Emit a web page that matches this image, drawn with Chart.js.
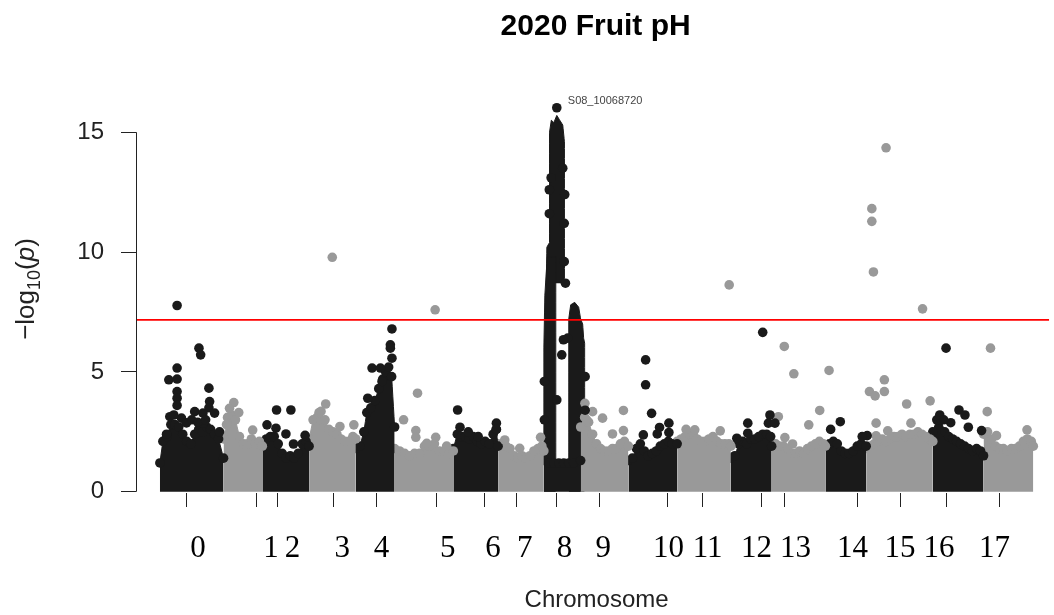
<!DOCTYPE html>
<html>
<head>
<meta charset="utf-8">
<script src="https://cdn.jsdelivr.net/npm/chart.js@4.4.1/dist/chart.umd.min.js"></script>
<style>
html, body { margin: 0; padding: 0; background: #fff; }
canvas { display: block; }
</style>
</head>
<body>
<canvas id="manhattan" width="1054" height="615"></canvas>
<script>
(function() {
// x = cumulative genome position (arbitrary units), y = -log10(p)
const chromosomes = ['0','1','2','3','4','5','6','7','8','9','10','11','12','13','14','15','16','17'];
const tickPos  = [50.7, 120.7, 142.7, 198.3, 241.7, 301.7, 350.7, 383, 423, 466.3, 534, 569, 628.3, 651.7, 725, 768.3, 814.3, 868.3];
const labelPos = [62.3, 135.7, 157.3, 207.3, 246.7, 313.3, 359, 390.7, 430.7, 469.7, 535.3, 574.7, 623.7, 663, 720.3, 768, 807.3, 863];
const yTicks = [0, 5, 10, 15];
const genomeLength = 918;
const threshold = 7.17;
const peakName = 'S08_10068720';
const peakSnp = [423, 16.02];

// top of the dense cloud of SNPs, per chromosome
const mass0  = [[24,1.2],[27,2.1],[31,2.3],[35,2.8],[39,2.8],[43,2.7],[47,2.4],[51,2.1],[55,2.0],[59,2.4],[63,2.6],[67,2.5],[71,2.7],[75,2.6],[79,2.4],[83,2.2],[88,1.4]];
const mass1  = [[88,2.2],[92,3.1],[96,3.2],[100,3.0],[104,2.3],[108,2.0],[112,2.0],[116,2.2],[120,2.0],[124,2.1],[127,1.9]];
const mass2  = [[127,1.9],[131,2.2],[135,2.3],[139,2.3],[143,2.0],[147,1.6],[151,1.4],[155,1.5],[159,1.4],[163,1.6],[167,2.0],[171,2.1],[174,1.9]];
const mass3  = [[174,2.2],[178,3.0],[182,3.1],[186,3.0],[190,3.0],[194,2.6],[198,2.5],[202,2.4],[206,2.2],[210,2.1],[214,2.1],[218,2.3],[221,2.2]];
const mass4  = [[221,1.8],[225,1.9],[229,2.5],[232,3.3],[236,3.5],[240,3.8],[244,4.3],[248,4.7],[251,5.0],[254,5.2],[257,4.8],[260,2.7]];
const mass5  = [[260,1.8],[265,1.7],[270,1.6],[275,1.5],[280,1.6],[285,1.6],[290,1.9],[295,1.9],[300,2.0],[305,1.7],[310,1.7],[315,1.6],[319,1.7]];
const mass6  = [[319,1.8],[323,2.4],[327,2.3],[331,2.3],[335,2.2],[339,2.3],[343,2.1],[347,2.0],[351,2.1],[355,2.0],[359,2.4],[362,2.6],[364,1.9]];
const mass7  = [[364,2.0],[368,1.9],[372,1.9],[376,1.8],[380,1.5],[384,1.4],[388,1.5],[392,1.4],[396,1.5],[400,1.7],[404,1.8],[408,1.9],[410,1.7]];
const mass8  = [[410,1.3],[415,1.2],[420,1.2],[425,1.2],[430,1.2],[435,1.2],[440,1.2],[447,1.3]];
const mass9  = [[447,2.7],[451,3.1],[455,2.9],[459,2.4],[463,2.0],[467,1.8],[471,1.7],[475,1.7],[479,1.8],[483,1.8],[487,2.0],[491,2.1],[495,1.9]];
const mass10 = [[495,1.3],[499,1.4],[503,1.8],[507,2.0],[511,1.7],[515,1.5],[519,1.6],[523,1.7],[527,1.9],[531,2.0],[535,2.1],[539,2.0],[544,2.0]];
const mass11 = [[544,2.1],[548,2.2],[552,2.3],[556,2.4],[560,2.4],[564,2.2],[568,2.1],[572,2.1],[576,2.2],[580,2.3],[584,2.1],[588,2.0],[592,2.0],[596,2.0],[598,1.9]];
const mass12 = [[598,1.4],[602,1.5],[606,2.0],[610,2.1],[614,2.0],[618,2.2],[622,2.2],[626,2.3],[630,2.4],[634,2.4],[638,2.3],[639,1.9]];
const mass13 = [[639,1.9],[643,2.0],[647,1.9],[651,1.9],[655,1.8],[659,1.6],[663,1.6],[667,1.7],[671,1.6],[675,1.8],[679,1.9],[683,2.0],[687,2.1],[691,2.0],[693,1.9]];
const mass14 = [[693,1.9],[697,2.0],[701,2.1],[705,2.0],[709,1.7],[713,1.6],[717,1.6],[721,1.7],[725,1.9],[729,2.0],[734,1.9]];
const mass15 = [[734,1.8],[738,1.9],[742,2.0],[746,2.1],[750,2.2],[754,2.1],[758,2.2],[762,2.3],[766,2.3],[770,2.4],[774,2.3],[778,2.4],[782,2.4],[786,2.5],[790,2.4],[794,2.3],[798,2.2],[801,2.1]];
const mass16 = [[801,2.5],[805,3.0],[809,3.0],[813,2.5],[817,2.3],[821,2.2],[825,2.1],[829,2.0],[833,1.9],[837,1.8],[841,1.7],[845,1.8],[849,1.7],[852,1.5]];
const mass17 = [[852,2.4],[856,2.5],[860,2.2],[864,1.9],[868,1.8],[872,1.8],[876,1.7],[880,1.8],[884,1.8],[888,1.9],[892,2.1],[896,2.2],[900,2.1],[902,1.9]];

// chromosome 8 peak: two columns of significant SNPs
const peak8Left  = [[410,1.2],[410,6.0],[411,8.2],[412.5,9.2],[413.5,9.8],[422,9.8],[422,1.2]];
const peak8Top   = [[412.5,8.7],[413,10.2],[415.7,10.4],[415.7,15.0],[417.5,15.5],[420,15.4],[423,15.7],[426,15.5],[429,15.3],[430.7,14.6],[430.7,8.7]];
const peak8Split = 8.7;
const peak8Right = [[435,1.2],[435,7.2],[437,7.8],[441,7.9],[445,7.7],[447,7.2],[449,7.0],[450,6.4],[451,6.2],[451,1.2]];

// individual SNPs standing out above the cloud
const dots0  = [[41.3,7.77],[63.3,5.99],[65,5.71],[41.3,5.16],[33,4.67],[41.3,4.7],[41.3,4.18],[41.3,3.9],[41.3,3.6],[73.3,4.32],[74,3.76],[73.3,3.5],[34,3.13],[45.7,3.07],[59,3.34],[67.3,3.28],[79,3.28],[30.7,2.4],[50.7,2.87],[67.3,2.86],[84,2.5],[38,3.2],[56,3.0],[62,2.9],[70,3.0]];
const dots1  = [[98.3,3.72],[103.3,3.3],[94,3.48],[117.3,2.57],[91,2.8]];
const dots2  = [[131.7,2.79],[141.3,3.41],[155.7,3.41],[140.7,2.65],[150.7,2.41],[158.3,1.99],[170,2.35]];
const dots3  = [[197.3,9.78],[190.7,3.66],[205,2.72],[219,2.79],[184,3.3],[186,3.35]];
const dots4  = [[257.3,6.79],[255.7,6.13],[255.7,5.99],[257.3,5.57],[237.3,5.16],[245.7,5.16],[247.3,4.6],[233,3.9]];
const dots5  = [[300.7,7.59],[283,4.11],[269,3.0],[281.3,2.55],[281.3,2.27],[292.3,2.02],[301.3,2.27],[312.3,1.9]];
const dots6  = [[323.3,3.41],[325.7,2.69],[362.3,2.86],[362.3,2.6],[344,2.3],[334,2.5]];
const dots7  = [[370.7,2.16],[385.7,1.81],[406.7,2.27]];
const dots8  = [peakSnp,[431.7,8.7],[434,6.41],[428,5.71],[429.7,6.34],[423,3.83],[417.3,13.1],[429,13.5],[415.5,11.6],[415.5,12.6],[430.5,11.2],[431,12.4],[430.5,9.6],[410.5,3.0],[410.5,4.6],[451.5,4.8],[451.5,3.4]];
const dots9  = [[451.3,3.69],[459,3.34],[469,3.07],[490,3.39],[479,2.41],[490,2.55],[453,3.0]];
const dots10 = [[512.3,5.5],[512.3,4.46],[518.3,3.27],[535.7,2.86],[526.3,2.68],[535.7,2.47],[510,2.37],[524,2.41]];
const dots11 = [[596.3,8.63],[561.7,2.58],[587.3,2.54],[553,2.6]];
const dots12 = [[630,6.65],[604,2.23],[615,2.86],[615,2.44],[637.3,3.2],[635.7,2.86],[642.3,2.86]];
const dots13 = [[651.7,6.06],[661.3,4.92],[696.7,5.06],[645.7,3.13],[687.3,3.39],[676.3,2.79],[652.3,2.26],[660,1.99]];
const dots14 = [[698.3,2.6],[708,2.92],[735,2.34],[730,2.3]];
const dots15 = [[754,14.35],[739.7,11.81],[739.7,11.28],[741.3,9.17],[790.7,7.63],[752.3,4.67],[737.3,4.18],[743,4.0],[752.3,4.18],[774.7,3.66],[798.3,3.79],[744,2.86],[779,2.86],[744,2.33],[755.7,2.54]];
const dots16 = [[814.3,5.99],[827.3,3.41],[833.3,3.2],[808,3.2],[819,2.88],[836.7,2.69],[850,2.55],[812,3.0]];
const dots17 = [[859,5.99],[855.7,3.34],[865,2.34],[895.7,2.58]];

const masses = [mass0,mass1,mass2,mass3,mass4,mass5,mass6,mass7,mass8,mass9,mass10,mass11,mass12,mass13,mass14,mass15,mass16,mass17];
const dots = [dots0,dots1,dots2,dots3,dots4,dots5,dots6,dots7,dots8,dots9,dots10,dots11,dots12,dots13,dots14,dots15,dots16,dots17];

const DARK = '#1a1a1a';
const GREY = '#999999';
const SANS = "'Liberation Sans', Arial, sans-serif";
const SERIF = "'Liberation Serif', 'Times New Roman', serif";
const R = 4.8;

const xy = arr => arr.map(p => ({x: p[0], y: p[1]}));
const colourOf = i => (i % 2 === 0 ? DARK : GREY);

function massSet(arr, colour, fill, radius) {
    return {
        data: xy(arr), showLine: true, fill: fill,
        backgroundColor: colour, borderColor: colour, borderWidth: 1,
        borderDash: [10, 0], // solid, but keeps the exact (non-decimated) path
        pointRadius: radius, pointBackgroundColor: colour, pointBorderWidth: 0,
        tension: 0, order: 2
    };
}

const datasets = [];
masses.forEach((m, i) => datasets.push(massSet(m, colourOf(i), 'origin', R)));
datasets.push(massSet(peak8Left, DARK, 'origin', 0));
datasets.push(massSet(peak8Top, DARK, {value: peak8Split}, 0));
datasets.push(massSet(peak8Right, DARK, 'origin', 0));
dots.forEach((d, i) => datasets.push({
    data: xy(d), showLine: false,
    pointRadius: R, pointBackgroundColor: colourOf(i), pointBorderWidth: 0,
    order: 1
}));
datasets.push({
    data: [{x: 0, y: threshold}, {x: genomeLength, y: threshold}],
    borderColor: '#ff0000', borderWidth: 1.6, pointRadius: 0, fill: false, order: 0
});

const rLabels = {
    id: 'rLabels',
    afterDraw(chart) {
        const {ctx, chartArea, scales: {x, y}} = chart;
        const mid = (chartArea.left + chartArea.right) / 2;
        ctx.save();

        // y axis line only spans the tick range
        ctx.strokeStyle = '#222';
        ctx.lineWidth = 1;
        ctx.beginPath();
        ctx.moveTo(chartArea.left + 0.5, y.getPixelForValue(yTicks[0]));
        ctx.lineTo(chartArea.left + 0.5, y.getPixelForValue(yTicks[yTicks.length - 1]));
        ctx.stroke();

        // title
        ctx.fillStyle = '#000';
        ctx.textAlign = 'center';
        ctx.textBaseline = 'alphabetic';
        ctx.font = 'bold 30px ' + SANS;
        ctx.fillText('2020 Fruit pH', mid + 3, 35);

        // chromosome labels
        ctx.font = '31px ' + SERIF;
        chromosomes.forEach((c, i) => ctx.fillText(c, x.getPixelForValue(labelPos[i]), 557));

        // x title
        ctx.fillStyle = '#222';
        ctx.font = '24px ' + SANS;
        ctx.fillText('Chromosome', mid + 4, 607);

        // y title: -log10(p)
        const parts = [
            {t: '\u2212log', f: '26px ' + SANS, dy: 0},
            {t: '10', f: '18px ' + SANS, dy: 6},
            {t: '(', f: '26px ' + SANS, dy: 0},
            {t: 'p', f: 'italic 26px ' + SANS, dy: 0},
            {t: ')', f: '26px ' + SANS, dy: 0}
        ];
        let total = 0;
        parts.forEach(p => { ctx.font = p.f; p.w = ctx.measureText(p.t).width; total += p.w; });
        ctx.translate(34, (chartArea.top + chartArea.bottom) / 2);
        ctx.rotate(-Math.PI / 2);
        ctx.textAlign = 'left';
        let cx = -total / 2;
        parts.forEach(p => { ctx.font = p.f; ctx.fillText(p.t, cx, p.dy); cx += p.w; });
        ctx.setTransform(1, 0, 0, 1, 0, 0);

        // peak SNP name
        ctx.fillStyle = '#444';
        ctx.font = '11px ' + SANS;
        ctx.textAlign = 'left';
        ctx.textBaseline = 'middle';
        ctx.fillText(peakName, x.getPixelForValue(peakSnp[0]) + 11, y.getPixelForValue(peakSnp[1]) - 7);
        ctx.restore();
    }
};

new Chart(document.getElementById('manhattan'), {
    type: 'line',
    data: {datasets: datasets},
    plugins: [rLabels],
    options: {
        responsive: false,
        animation: false,
        devicePixelRatio: 1,
        layout: {padding: {top: 85, right: 0, bottom: 0, left: 0}},
        plugins: {legend: {display: false}, tooltip: {enabled: false}, title: {display: false}},
        scales: {
            x: {
                type: 'linear', min: 0, max: genomeLength,
                afterBuildTicks: s => { s.ticks = tickPos.map(v => ({value: v})); },
                afterFit: s => { s.height = 122; },
                border: {display: false},
                grid: {drawOnChartArea: false, drawTicks: true, tickLength: 14, color: '#222', lineWidth: 1},
                ticks: {display: false, autoSkip: false}
            },
            y: {
                type: 'linear', min: -0.054, max: 16.97,
                afterBuildTicks: s => { s.ticks = yTicks.map(v => ({value: v})); },
                afterFit: s => { s.width = 136; },
                border: {display: false},
                grid: {drawOnChartArea: false, drawTicks: true, tickLength: 15, color: '#222', lineWidth: 1},
                ticks: {padding: 17, color: '#222', font: {family: SANS, size: 24}}
            }
        }
    }
});
})();
</script>
</body>
</html>
